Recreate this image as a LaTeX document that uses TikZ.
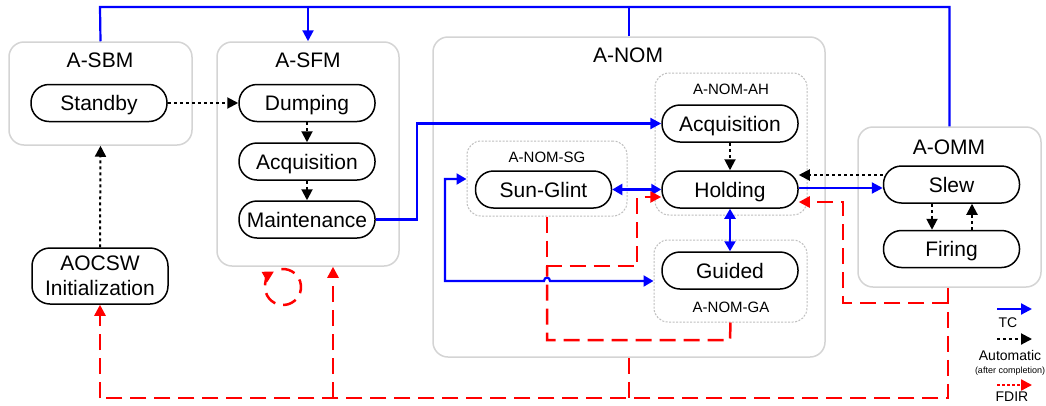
\documentclass[tikz,border=0pt]{standalone}
\usepackage{fontspec}
\setmainfont{Liberation Sans}
\usetikzlibrary{arrows.meta,calc}

\definecolor{tcblue}{RGB}{0,0,255}
\definecolor{fdirred}{RGB}{255,0,0}
\definecolor{boxgray}{RGB}{212,212,212}
\definecolor{subgray}{RGB}{190,190,190}

\tikzset{
  modebox/.style={draw=boxgray, line width=1.5pt, rounded corners=15pt, inner sep=0pt},
  subbox/.style={draw=subgray, line width=1pt, dash pattern=on 2pt off 1.5pt, rounded corners=14pt, inner sep=0pt},
  modetitle/.style={font=\fontsize{21}{24}\selectfont, text height=15pt, text depth=0pt, inner sep=0pt},
  subtitle/.style={font=\fontsize{15}{18}\selectfont, text height=10.7pt, text depth=0pt, inner sep=0pt},
  state/.style={draw=black, line width=1.5pt, rounded corners=18pt, fill=white,
    minimum width=136pt, minimum height=37pt, inner sep=0pt,
    font=\fontsize{21}{24}\selectfont, text height=15pt, text depth=0pt},
  tip/.style={-{Triangle[length=11pt,width=11pt]}},
  both tips/.style={{Triangle[length=10pt,width=11pt]}-{Triangle[length=10pt,width=11pt]}},
  tcline/.style={draw=tcblue, line width=2.2pt},
  autoline/.style={draw=black, line width=2pt, dash pattern=on 3pt off 3pt},
  fdirline/.style={draw=fdirred, line width=2.5pt, dash pattern=on 16pt off 8pt},
  legendtext/.style={font=\fontsize{14}{16}\selectfont, inner sep=0pt},
}

\begin{document}
\begin{tikzpicture}[x=1pt, y=1pt]
\fill[white] (0,0) rectangle (1046,-405);
\useasboundingbox (0,0) rectangle (1046,-405);

% mode containers
\node[modebox, minimum width=183pt, minimum height=103pt] (SBM) at (100.5,-93.5) {};
\node[modebox, minimum width=182pt, minimum height=224pt] (SFM) at (308,-154) {};
\node[modebox, minimum width=392pt, minimum height=320pt] (NOM) at (629,-197) {};
\node[modebox, minimum width=183pt, minimum height=160pt] (OMM) at (949.5,-207) {};

\node[modetitle] (tSBM) at (100,-60) {A-SBM};
\node[modetitle] (tSFM) at (308,-60) {A-SFM};
\node[modetitle] (tNOM) at (628,-55) {A-NOM};
\node[modetitle] (tOMM) at (949,-147) {A-OMM};

% nominal mode sub-groups
\node[subbox, minimum width=152pt, minimum height=142pt] (AH) at (731,-144) {};
\node[subbox, minimum width=160pt, minimum height=75pt] (SG) at (547,-178.5) {};
\node[subbox, minimum width=153pt, minimum height=82pt] (GA) at (730.5,-281) {};

\node[subtitle] (tAH) at (731,-89) {A-NOM-AH};
\node[subtitle] (tSG) at (547,-157) {A-NOM-SG};
\node[subtitle] (tGA) at (731,-307) {A-NOM-GA};

% states
\node[state] (Standby) at (99,-103) {Standby};
\node[state, minimum height=56pt, text height=, text depth=, align=center,
      font=\fontsize{21}{25}\selectfont] (Init) at (100,-276) {AOCSW\\Initialization};
\node[state] (Dump) at (307,-103) {Dumping};
\node[state] (SAcq) at (307,-161.5) {Acquisition};
\node[state] (Maint) at (307,-219.5) {Maintenance};
\node[state] (NAcq) at (730,-123.5) {Acquisition};
\node[state] (Hold) at (730,-189.5) {Holding};
\node[state] (Glint) at (543.5,-189.5) {Sun-Glint};
\node[state] (Guided) at (730,-270.5) {Guided};
\node[state] (Slew) at (951.5,-184.5) {Slew};
\node[state] (Fire) at (951.5,-249) {Firing};

% telecommand bus along the top
\coordinate (busL) at (100,-7);
\coordinate (busR) at (949.5,-7);
\coordinate (busSFM) at (308,-7);
\coordinate (busNOM) at (629,-7);
\draw[tcline] (SBM.north) -- (busL) -- (busR) -- (OMM.north);
\draw[tcline] (NOM.north) -- (busNOM);
\draw[tcline, tip] (busSFM) -- (SFM.north);

% telecommands inside the nominal modes
\draw[tcline, tip] (Maint.east) -- ++(41,0) |- (NAcq.west);
\draw[tcline, both tips] (Glint.east) -- (Hold.west);
\draw[tcline, both tips] (Hold.south) -- (Guided.north);
\coordinate (holdOut) at ($(Hold.east)+(0,1.5)$);
\draw[tcline, tip] (holdOut) -- (Slew.west |- holdOut);
\coordinate (sgIn) at (SG.west |- 0,-179);
\draw[tcline, both tips]
  (sgIn) -- (445,-179) -- (445,-281) -- (544,-281)
  .. controls (544,-276.5) and (550,-276.5) .. (550,-281) -- (GA.west);

% automatic transitions
\draw[autoline, tip] (Standby.east) -- (Dump.west);
\draw[autoline, tip] (Init.north) -- (SBM.south);
\draw[autoline, tip] (Dump.south) -- (SAcq.north);
\draw[autoline, tip] (SAcq.south) -- (Maint.north);
\draw[autoline, tip] (NAcq.south) -- (Hold.north);
\draw[autoline, tip] (Slew.west |- 0,-175) -- (Hold.east |- 0,-175);
\draw[autoline, tip] (Slew.south -| 932,0) -- (Fire.north -| 932,0);
\draw[autoline, tip] (Fire.north -| 972,0) -- (Slew.south -| 972,0);

% FDIR transitions
\coordinate (fdirR) at (948,-398);
\coordinate (fdirL) at (100,-398);
\draw[fdirline] (OMM.south -| fdirR) -- (fdirR) -- (fdirL);
\draw[fdirline, tip] (fdirL) -- (Init.south);
\draw[fdirline, tip] (333,-398) -- (SFM.south -| 333,0);
\draw[fdirline] (NOM.south) -- (629,-398);
\draw[fdirline, tip] (948,-303) -- (843,-303) -- (843,-202) -- (Hold.east |- 0,-202);
\draw[fdirline, tip] (SG.south) -- (547,-266) -- (637,-266) -- (637,-197) -- (Hold.west |- 0,-197);
\draw[fdirline] (GA.south) -- (730,-340) -- (547,-340) -- (547,-266);
\coordinate (loopC) at (283,-287);
\draw[fdirline, dash pattern=on 14pt off 8pt, tip] ([shift={(95:18)}]loopC) arc[start angle=95, end angle=-240, radius=18];

% legend
\coordinate (lgA) at (997,-309);
\coordinate (lgB) at (1032,-309);
\coordinate (lgC) at (997,-339);
\coordinate (lgD) at (1032,-339);
\coordinate (lgE) at (997,-385);
\coordinate (lgF) at (1032,-385);
\draw[tcline, tip] (lgA) -- (lgB);
\draw[autoline, tip] (lgC) -- (lgD);
\draw[draw=fdirred, line width=2.2pt, dash pattern=on 3pt off 2pt, tip] (lgE) -- (lgF);
\node[legendtext] (lgTC) at (1008,-323) {TC};
\node[legendtext] (lgAuto) at (1010,-355) {Automatic};
\node[font=\fontsize{9}{10}\selectfont, inner sep=0pt] (lgAfter) at (1010,-371) {(after completion)};
\node[legendtext] (lgFDIR) at (1012,-397) {FDIR};
\end{tikzpicture}
\end{document}
